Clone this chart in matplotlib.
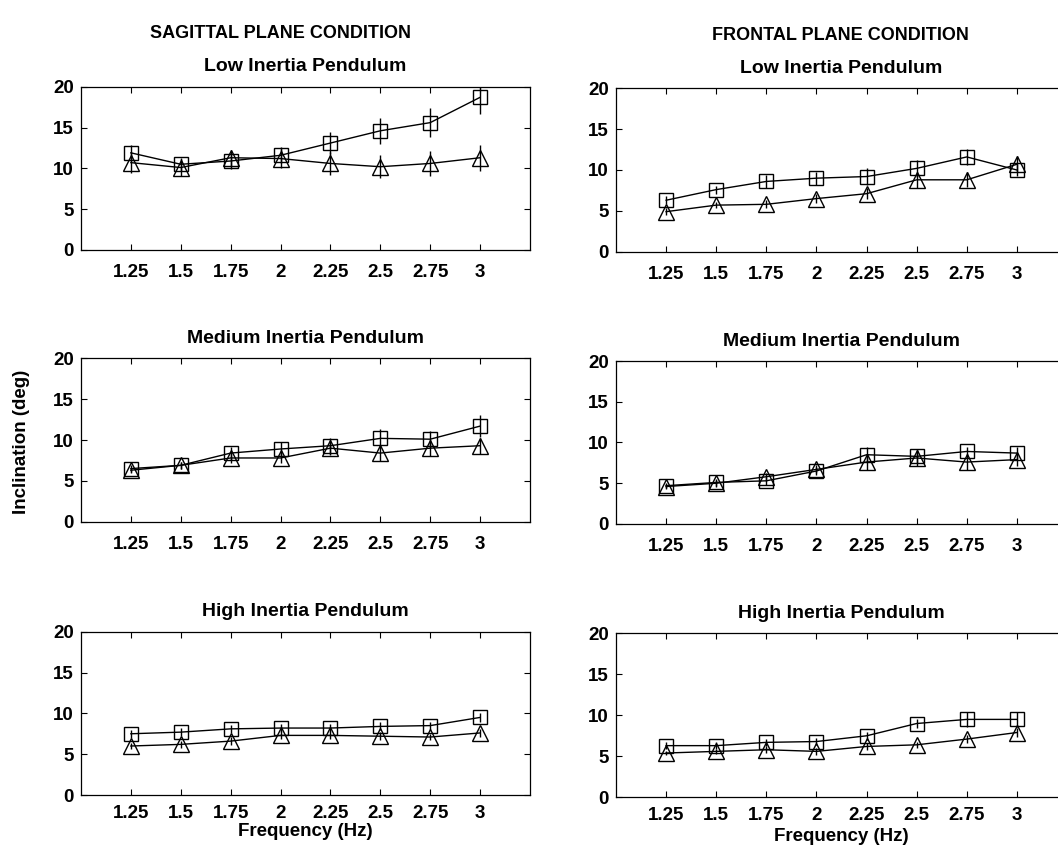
import matplotlib
matplotlib.use("Agg")
import matplotlib.pyplot as plt

plt.rcParams['font.family'] = ['Liberation Sans', 'DejaVu Sans']
plt.rcParams['font.weight'] = 'bold'

freqs = [1.25, 1.5, 1.75, 2, 2.25, 2.5, 2.75, 3]
freq_labels = ['1.25', '1.5', '1.75', '2', '2.25', '2.5', '2.75', '3']
pendulums = ['Low Inertia Pendulum', 'Medium Inertia Pendulum', 'High Inertia Pendulum']
conditions = ['SAGITTAL PLANE CONDITION', 'FRONTAL PLANE CONDITION']

# sagittal plane: squares / triangles, with error bars
sag_low_sq = [11.9, 10.5, 10.9, 11.6, 13.1, 14.6, 15.6, 18.7]
sag_low_sq_err = [1.0, 0.8, 1.0, 1.0, 1.4, 1.6, 1.8, 2.0]
sag_low_tri = [10.7, 10.1, 11.3, 11.2, 10.6, 10.2, 10.6, 11.3]
sag_low_tri_err = [1.3, 1.0, 1.0, 1.2, 1.4, 1.4, 1.5, 1.6]

sag_med_sq = [6.5, 6.9, 8.4, 8.9, 9.3, 10.2, 10.1, 11.7]
sag_med_sq_err = [0.4, 0.4, 0.8, 0.8, 1.0, 1.2, 1.0, 1.3]
sag_med_tri = [6.3, 6.9, 7.8, 7.8, 9.0, 8.4, 9.0, 9.3]
sag_med_tri_err = [0.3, 0.4, 0.6, 0.6, 0.8, 1.0, 1.0, 1.0]

sag_high_sq = [7.5, 7.7, 8.1, 8.2, 8.2, 8.4, 8.5, 9.5]
sag_high_sq_err = [0.5, 0.5, 0.5, 0.5, 0.5, 0.5, 0.5, 0.6]
sag_high_tri = [6.0, 6.2, 6.6, 7.3, 7.3, 7.2, 7.1, 7.6]
sag_high_tri_err = [0.4, 0.4, 0.5, 0.5, 0.5, 0.5, 0.4, 0.5]

# frontal plane
fro_low_sq = [6.3, 7.6, 8.6, 9.0, 9.2, 10.2, 11.6, 10.0]
fro_low_sq_err = [0.5, 0.5, 0.8, 0.8, 1.0, 1.0, 1.0, 0.7]
fro_low_tri = [4.9, 5.7, 5.8, 6.5, 7.1, 8.8, 8.8, 10.7]
fro_low_tri_err = [0.4, 0.4, 0.5, 0.6, 0.7, 1.0, 0.9, 1.0]

fro_med_sq = [4.7, 5.1, 5.3, 6.5, 8.5, 8.3, 8.9, 8.7]
fro_med_sq_err = [0.3, 0.4, 0.5, 0.5, 0.9, 0.8, 0.6, 0.7]
fro_med_tri = [4.6, 5.0, 5.8, 6.7, 7.6, 8.1, 7.6, 7.9]
fro_med_tri_err = [0.3, 0.4, 0.5, 0.5, 1.0, 1.0, 1.0, 0.8]

fro_high_sq = [6.3, 6.3, 6.7, 6.8, 7.5, 9.0, 9.5, 9.5]
fro_high_sq_err = [0.4, 0.4, 0.4, 0.4, 0.5, 0.6, 0.9, 0.9]
fro_high_tri = [5.4, 5.6, 5.8, 5.6, 6.2, 6.4, 7.1, 7.9]
fro_high_tri_err = [0.3, 0.3, 0.4, 0.4, 0.4, 0.4, 0.5, 0.6]

data = [
    [(sag_low_sq, sag_low_sq_err, sag_low_tri, sag_low_tri_err),
     (sag_med_sq, sag_med_sq_err, sag_med_tri, sag_med_tri_err),
     (sag_high_sq, sag_high_sq_err, sag_high_tri, sag_high_tri_err)],
    [(fro_low_sq, fro_low_sq_err, fro_low_tri, fro_low_tri_err),
     (fro_med_sq, fro_med_sq_err, fro_med_tri, fro_med_tri_err),
     (fro_high_sq, fro_high_sq_err, fro_high_tri, fro_high_tri_err)],
]

W, H = 1058, 847
fig = plt.figure(figsize=(W / 100, H / 100), dpi=100)

# axes boxes in pixels: (left, right) per column, (top, bottom) per row
col_x = [(81, 530), (616, 1067)]
row_y = [[(86.7, 250), (358.3, 521.7), (631.7, 795)],
         [(88.3, 251.7), (361, 524), (633.3, 797.3)]]

for c in range(2):
    for r in range(3):
        x0, x1 = col_x[c]
        y0, y1 = row_y[c][r]
        ax = fig.add_axes([x0 / W, 1 - y1 / H, (x1 - x0) / W, (y1 - y0) / H])
        sq, sq_err, tri, tri_err = data[c][r]
        ax.errorbar(freqs, sq, yerr=sq_err, color='black', lw=1.0, elinewidth=1.0,
                    marker='s', ms=9.5, mfc='none', mec='black', mew=1.0, capsize=0)
        ax.errorbar(freqs, tri, yerr=tri_err, color='black', lw=1.0, elinewidth=1.0,
                    marker='^', ms=11, mfc='none', mec='black', mew=1.0, capsize=0)
        ax.set_xlim(1.0, 3.25)
        ax.set_ylim(0, 20)
        ax.set_xticks(freqs)
        ax.set_xticklabels(freq_labels)
        ax.set_yticks([0, 5, 10, 15, 20])
        ax.tick_params(direction='in', top=True, right=True, length=4, width=0.8,
                       labelsize=13.5, pad=10 if r < 2 else 7)
        ax.tick_params(axis='y', pad=5)
        for lab in ax.get_xticklabels() + ax.get_yticklabels():
            lab.set_fontweight('bold')
        for sp in ax.spines.values():
            sp.set_linewidth(0.9)
        ax.set_title(pendulums[r], fontsize=14, fontweight='bold', pad=11)
        if r == 2:
            ax.set_xlabel('Frequency (Hz)', fontsize=13.5, fontweight='bold',
                          labelpad=1 if c == 0 else 3)

fig.text(280 / W, 1 - 33 / H, conditions[0], ha='center', va='center',
         fontsize=13, fontweight='bold')
fig.text(840 / W, 1 - 35 / H, conditions[1], ha='center', va='center',
         fontsize=13, fontweight='bold')
fig.text(22 / W, 1 - 442 / H, 'Inclination (deg)', ha='center', va='center',
         rotation=90, fontsize=13.5, fontweight='bold')

fig.savefig('out.png', dpi=100)
